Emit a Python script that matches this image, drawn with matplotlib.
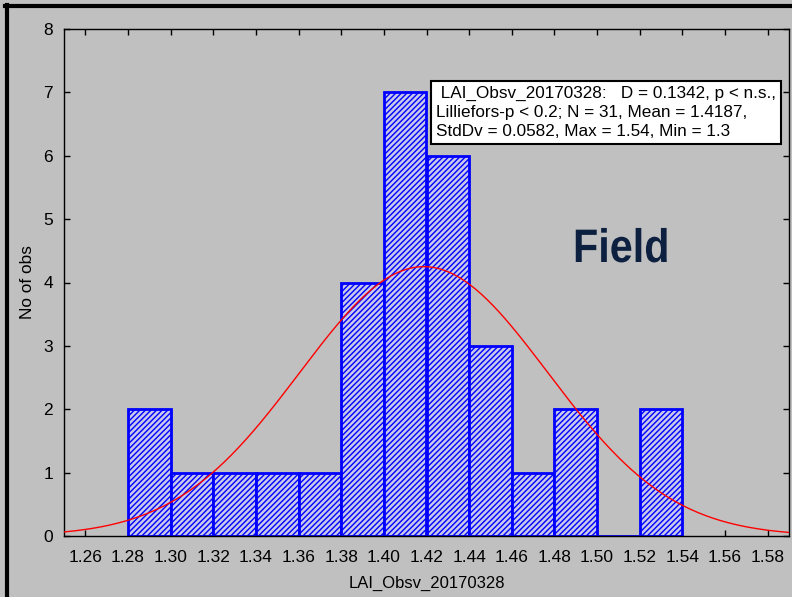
import numpy as np
import matplotlib
matplotlib.use('Agg')
import matplotlib.pyplot as plt
from matplotlib.lines import Line2D
from matplotlib.textpath import TextPath
from matplotlib.patches import PathPatch
from matplotlib.font_manager import FontProperties
from matplotlib.transforms import Affine2D

# histogram bins (lower edges) and counts
bin_edges = [1.28, 1.30, 1.32, 1.34, 1.36, 1.38, 1.40, 1.42, 1.44, 1.46, 1.48, 1.50, 1.52, 1.54]
counts = [2, 1, 1, 1, 1, 4, 7, 6, 3, 1, 2, 0, 2]

# summary stats from the legend box
n_obs = 31
mean_val = 1.4187
std_val = 0.0582

x_ticks = [1.26, 1.28, 1.30, 1.32, 1.34, 1.36, 1.38, 1.40, 1.42, 1.44, 1.46, 1.48, 1.50, 1.52, 1.54, 1.56, 1.58]
y_ticks = [0, 1, 2, 3, 4, 5, 6, 7, 8]

plt.rcParams['font.family'] = ['Liberation Sans', 'DejaVu Sans']
plt.rcParams['hatch.linewidth'] = 1.0

bg = '#C0C0C0'
W, H = 792, 597
fig = plt.figure(figsize=(W / 100, H / 100), dpi=100, facecolor=bg)
ax = fig.add_axes([64 / W, 1 - 536 / H, (789 - 64) / W, (536 - 29) / H])
ax.set_facecolor(bg)

widths = np.diff(bin_edges)
ax.bar(bin_edges[:-1], counts, width=widths, align='edge',
       facecolor='#C8C8EC', edgecolor='#0000FF', linewidth=2, hatch='//////', zorder=2)

# fitted normal curve
bw = widths[0]
xs = np.linspace(1.25, 1.59, 400)
ys = n_obs * bw / (std_val * np.sqrt(2 * np.pi)) * np.exp(-0.5 * ((xs - mean_val) / std_val) ** 2)
ax.plot(xs, ys, color='#FF0000', linewidth=1.0, zorder=3)

ax.set_xlim(1.25, 1.59)
ax.set_ylim(0, 8)
ax.set_xticks(x_ticks)
ax.set_xticklabels([f'{t:.2f}' for t in x_ticks])
ax.set_yticks(y_ticks)
ax.tick_params(axis='x', pad=10)
ax.tick_params(direction='in', length=4, width=1, top=True, right=True,
               labelsize=12.5, colors='black')
ax.tick_params(axis='y', pad=8)
for s in ax.spines.values():
    s.set_linewidth(1.0)
    s.set_color('black')

ax.set_xlabel('LAI_Obsv_20170328', fontsize=12, labelpad=8)
ax.set_ylabel('No of obs', fontsize=12.4, labelpad=6)

box_text = (' LAI_Obsv_20170328:   D = 0.1342, p < n.s.,\n'
            'Lilliefors-p < 0.2; N = 31, Mean = 1.4187,\n'
            'StdDv = 0.0582, Max = 1.54, Min = 1.3')
ax.text(0.513, 0.888, box_text, transform=ax.transAxes, ha='left', va='top',
        fontsize=12.3, linespacing=1.33, zorder=5,
        bbox=dict(boxstyle='square,pad=0.3', facecolor='white', edgecolor='black', linewidth=1.5))

# condensed bold "Field" label, drawn as a squeezed text path (pixel units)
tp = TextPath((0, 0), 'Field', size=47, prop=FontProperties(family='Liberation Sans', weight='bold'))
tw = tp.get_extents().width
sx = 91 / tw
trans = Affine2D().scale(sx / W, 1 / H).translate(573 / W, (H - 262) / H) + fig.transFigure
fig.add_artist(PathPatch(tp, transform=trans, facecolor='#0D2040', edgecolor='none', zorder=6))

# thick black frame lines on left and top of the figure
fig.add_artist(Line2D([6.5 / W, 6.5 / W], [0, 1 - 5 / H], transform=fig.transFigure,
                      color='black', linewidth=3))
fig.add_artist(Line2D([5 / W, 1], [1 - 6 / H, 1 - 6 / H], transform=fig.transFigure,
                      color='black', linewidth=3))

fig.savefig('out.png', dpi=100, facecolor=bg)
